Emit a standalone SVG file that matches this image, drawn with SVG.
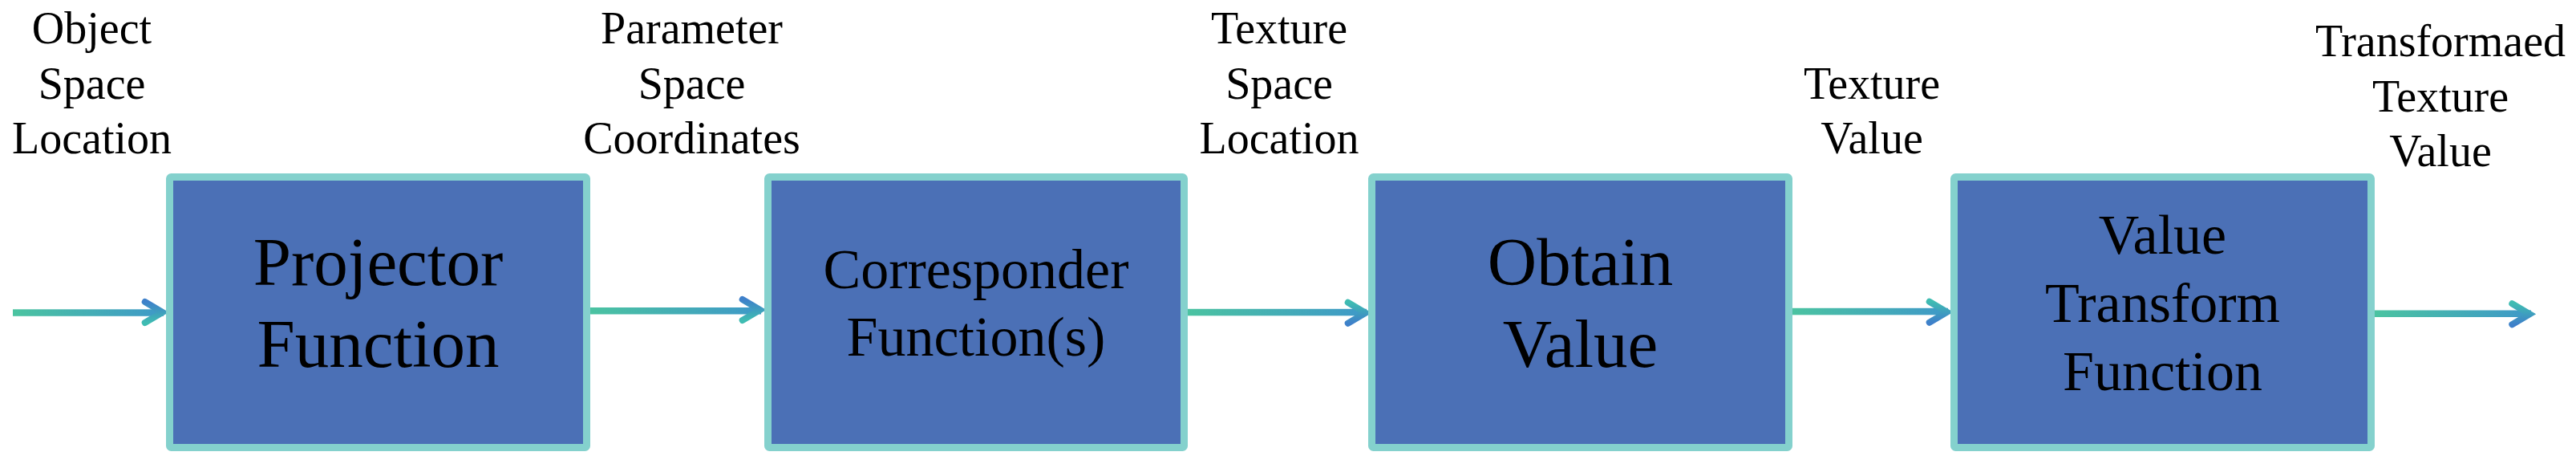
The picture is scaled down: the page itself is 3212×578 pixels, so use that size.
<svg xmlns="http://www.w3.org/2000/svg" width="3212" height="578" viewBox="0 0 3212 578">
<style>
.box{fill:#4B70B6;stroke:#84D1CD;stroke-width:9}
.t{font-family:"Liberation Serif","Times New Roman",serif;fill:#000;text-anchor:middle}
.lab{font-size:56px}
.big{font-size:85px}
.mid{font-size:70px}
.head{fill:none;stroke-width:8;stroke-linecap:round;stroke-linejoin:miter;stroke-miterlimit:10}
</style>
<defs>
<linearGradient id="lg" x1="0" y1="0" x2="1" y2="0"><stop offset="0" stop-color="#4BC4A0"/><stop offset="1" stop-color="#3E98C9"/></linearGradient>
<linearGradient id="hBlueTop" x1="0" y1="0" x2="0" y2="1"><stop offset="0" stop-color="#3E80CA"/><stop offset="1" stop-color="#3FBCB2"/></linearGradient>
<linearGradient id="hTealTop" x1="0" y1="0" x2="0" y2="1"><stop offset="0" stop-color="#3FBCB2"/><stop offset="1" stop-color="#3E80CA"/></linearGradient>
</defs>
<g id="connectors">
<g id="a1"><rect x="16" y="385.3" width="188" height="8.5" fill="url(#lg)"/><path class="head" stroke="url(#hBlueTop)" d="M180.7,376 L202.7,389 L180.7,402"/></g>
<g id="a2"><rect x="731" y="383" width="218" height="8.5" fill="url(#lg)"/><path class="head" stroke="url(#hBlueTop)" d="M925.7,373 L947.7,386 L925.7,399"/></g>
<g id="a3"><rect x="1476" y="384.8" width="228" height="8.5" fill="url(#lg)"/><path class="head" stroke="url(#hTealTop)" d="M1680.7,376.7 L1702.7,389.7 L1680.7,402.7"/></g>
<g id="a4"><rect x="2230" y="383.8" width="199" height="8.5" fill="url(#lg)"/><path class="head" stroke="url(#hTealTop)" d="M2405.7,375.7 L2427.7,388.7 L2405.7,401.7"/></g>
<g id="a5"><rect x="2957" y="386.5" width="199" height="8.5" fill="url(#lg)"/><path class="head" stroke="url(#hTealTop)" d="M3132.3,378.3 L3154.3,391.3 L3132.3,404.3"/></g>
</g>
<g id="n1"><rect class="box" x="211.5" y="220.5" width="520" height="337" rx="2"/>
<text class="t big" x="471.5" y="354.6">Projector</text><text class="t big" x="471.5" y="456.6">Function</text></g>
<g id="n2"><rect class="box" x="957.5" y="220.5" width="519" height="337" rx="2"/>
<text class="t mid" x="1217" y="359.4">Corresponder</text><text class="t mid" x="1217" y="443.4">Function(s)</text></g>
<g id="n3"><rect class="box" x="1710.5" y="220.5" width="520" height="337" rx="2"/>
<text class="t big" x="1970.5" y="354.6">Obtain</text><text class="t big" x="1970.5" y="456.6">Value</text></g>
<g id="n4"><rect class="box" x="2436.5" y="220.5" width="520" height="337" rx="2"/>
<text class="t mid" x="2696.5" y="316">Value</text><text class="t mid" x="2696.5" y="401">Transform</text><text class="t mid" x="2696.5" y="486">Function</text></g>
<g id="l1"><text class="t lab" x="114.5" y="54">Object</text><text class="t lab" x="114.5" y="122.5">Space</text><text class="t lab" x="114.5" y="191">Location</text></g>
<g id="l2"><text class="t lab" x="862.5" y="54">Parameter</text><text class="t lab" x="862.5" y="122.5">Space</text><text class="t lab" x="862.5" y="191">Coordinates</text></g>
<g id="l3"><text class="t lab" x="1595" y="54">Texture</text><text class="t lab" x="1595" y="122.5">Space</text><text class="t lab" x="1595" y="191">Location</text></g>
<g id="l4"><text class="t lab" x="2334" y="122.5">Texture</text><text class="t lab" x="2334" y="191">Value</text></g>
<g id="l5"><text class="t lab" x="3043" y="70">Transformaed</text><text class="t lab" x="3043" y="138.5">Texture</text><text class="t lab" x="3043" y="207">Value</text></g>
</svg>
